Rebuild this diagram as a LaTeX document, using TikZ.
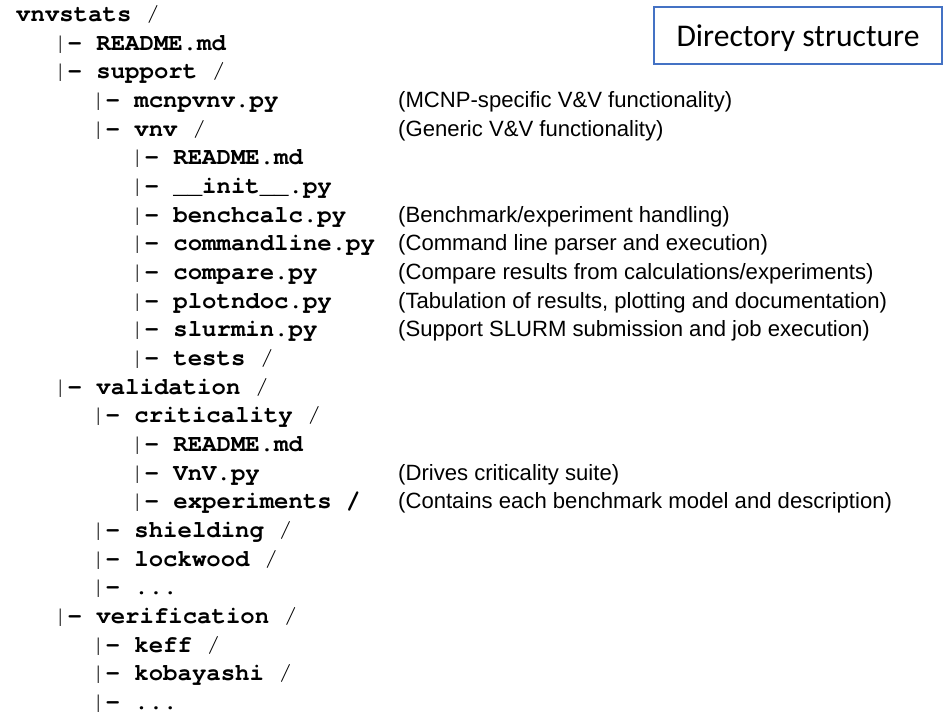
\documentclass[tikz,border=0pt]{standalone}
\usepackage{fontspec}
\newfontfamily\treefont{TeX Gyre Cursor}[Ligatures=NoCommon]
\newfontfamily\notefont{Liberation Sans}
\newfontfamily\titlefont{Carlito}
\definecolor{boxblue}{HTML}{4472C4}
\newcommand\treebar{{\mdseries|}}
\newcommand\slsh{{\mdseries/}}
\begin{document}
\begin{tikzpicture}[x=1pt,y=-1pt,
  entry/.style={anchor=base west,inner sep=0pt,font=\treefont\fontsize{24}{24}\selectfont\bfseries},
  note/.style={anchor=base west,inner sep=0pt,font=\notefont\fontsize{22.1}{22.1}\selectfont},
  titlebox/.style={draw=boxblue,line width=1.3pt,minimum width=288pt,minimum height=57pt,inner sep=0pt,
    text height=22pt,text depth=0pt,font=\titlefont\fontsize{31.6}{31.6}\selectfont}]
\useasboundingbox (0,0) rectangle (949,714);
% row baselines
\def\r#1{{21.7+28.65*(#1-1)}}
% level columns: bar cell start
\def\la{53}\def\lb{91}\def\lc{130}
\node[entry] (root) at (16,\r1) {vnvstats \slsh};
\node[entry] (readme) at (\la,\r2) {\treebar- README.md};
\node[entry] (support) at (\la,\r3) {\treebar- support \slsh};
\node[entry] (mcnpvnv) at (\lb,\r4) {\treebar- mcnpvnv.py};
\node[entry] (vnv) at (\lb,\r5) {\treebar- vnv \slsh};
\node[entry] (vnvreadme) at (\lc,\r6) {\treebar- README.md};
\node[entry] (init) at (\lc,\r7) {\treebar- \_\_init\_\_.py};
\node[entry] (benchcalc) at (\lc,\r8) {\treebar- benchcalc.py};
\node[entry] (commandline) at (\lc,\r9) {\treebar- commandline.py};
\node[entry] (compare) at (\lc,\r{10}) {\treebar- compare.py};
\node[entry] (plotndoc) at (\lc,\r{11}) {\treebar- plotndoc.py};
\node[entry] (slurmin) at (\lc,\r{12}) {\treebar- slurmin.py};
\node[entry] (tests) at (\lc,\r{13}) {\treebar- tests \slsh};
\node[entry] (validation) at (\la,\r{14}) {\treebar- validation \slsh};
\node[entry] (criticality) at (\lb,\r{15}) {\treebar- criticality \slsh};
\node[entry] (critreadme) at (\lc,\r{16}) {\treebar- README.md};
\node[entry] (vnvpy) at (\lc,\r{17}) {\treebar- VnV.py};
\node[entry] (experiments) at (\lc,\r{18}) {\treebar- experiments /};
\node[entry] (shielding) at (\lb,\r{19}) {\treebar- shielding \slsh};
\node[entry] (lockwood) at (\lb,\r{20}) {\treebar- lockwood \slsh};
\node[entry] (valmore) at (\lb,\r{21}) {\treebar- ...};
\node[entry] (verification) at (\la,\r{22}) {\treebar- verification \slsh};
\node[entry] (keff) at (\lb,\r{23}) {\treebar- keff \slsh};
\node[entry] (kobayashi) at (\lb,\r{24}) {\treebar- kobayashi \slsh};
\node[entry] (vermore) at (\lb,\r{25}) {\treebar- ...};
% descriptions
\def\nx{398}
\node[note] (d4) at (\nx,\r4) {(MCNP-specific V\&V functionality)};
\node[note] (d5) at (\nx,\r5) {(Generic V\&V functionality)};
\node[note] (d8) at (\nx,\r8) {(Benchmark/experiment handling)};
\node[note] (d9) at (\nx,\r9) {(Command line parser and execution)};
\node[note] (d10) at (\nx,\r{10}) {(Compare results from calculations/experiments)};
\node[note] (d11) at (\nx,\r{11}) {(Tabulation of results, plotting and documentation)};
\node[note] (d12) at (\nx,\r{12}) {(Support SLURM submission and job execution)};
\node[note] (d17) at (\nx,\r{17}) {(Drives criticality suite)};
\node[note] (d18) at (\nx,\r{18}) {(Contains each benchmark model and description)};
% title
\node[titlebox] (title) at (798,35.5) {Directory structure};
\end{tikzpicture}
\end{document}
